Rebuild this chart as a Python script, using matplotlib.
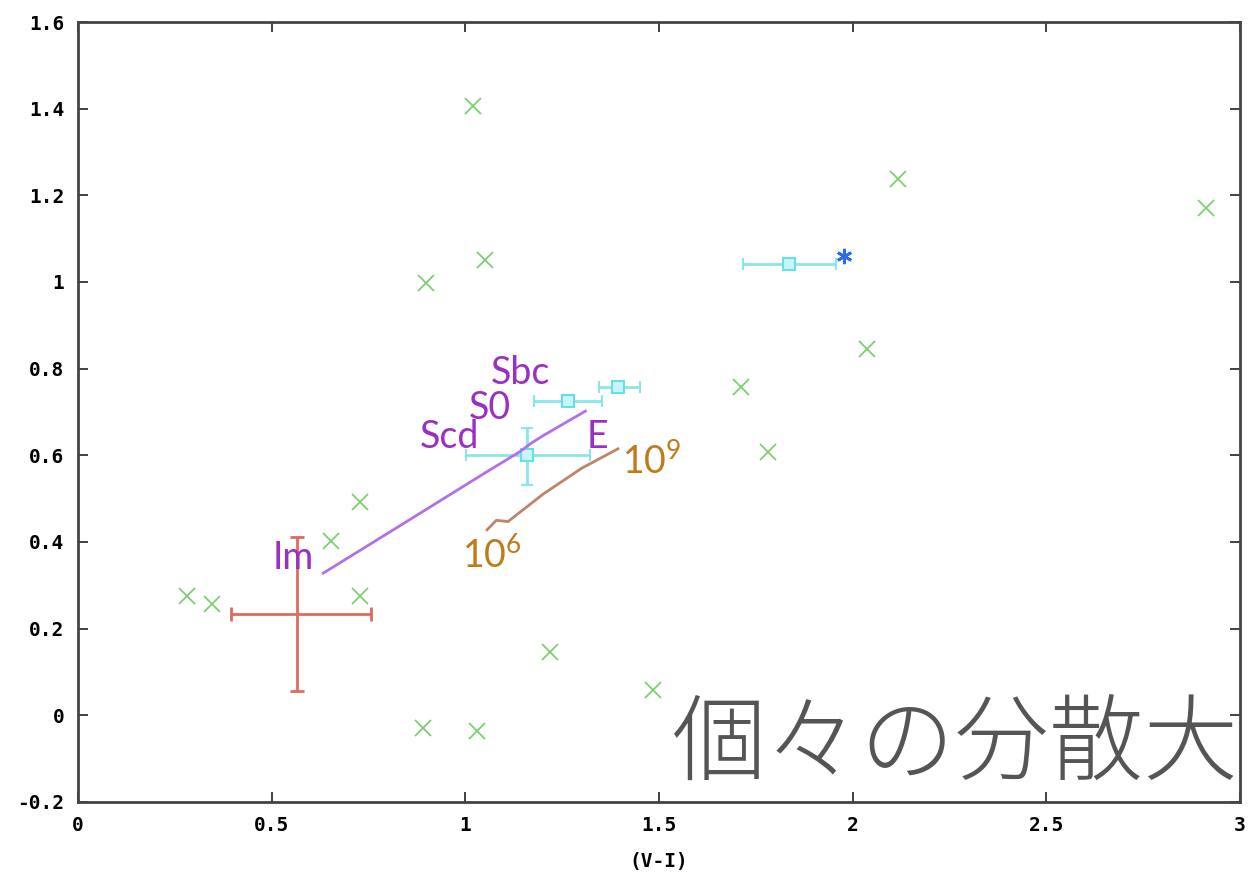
import matplotlib
matplotlib.use("Agg")
import matplotlib.pyplot as plt

# scattered galaxies (green crosses)
gx = [0.28, 0.346, 0.653, 0.728, 0.728, 0.899, 1.02, 1.05, 0.891, 1.03,
      1.219, 1.485, 1.712, 1.782, 2.037, 2.117, 2.912]
gy = [0.275, 0.257, 0.402, 0.492, 0.275, 0.998, 1.406, 1.051, -0.029, -0.036,
      0.146, 0.058, 0.758, 0.608, 0.845, 1.238, 1.171]

# mean with spread (red)
red_x, red_y = 0.565, 0.234
red_xerr = [[0.17], [0.192]]
red_yerr = [[0.178], [0.177]]

# cyan points with error bars
cx = [1.159, 1.265, 1.394, 1.836]
cy = [0.601, 0.725, 0.758, 1.042]
cx_lo = [0.157, 0.088, 0.049, 0.119]
cx_hi = [0.163, 0.088, 0.057, 0.121]
cy_lo = [0.069, 0.0, 0.0, 0.012]
cy_hi = [0.062, 0.0, 0.0, 0.012]

star_x, star_y = 1.978, 1.06

# model tracks
hub_x = [0.633, 0.85, 1.05, 1.14, 1.17, 1.20, 1.31]
hub_y = [0.328, 0.448, 0.559, 0.608, 0.628, 0.645, 0.702]
age_x = [1.056, 1.08, 1.11, 1.2, 1.3, 1.394]
age_y = [0.428, 0.45, 0.447, 0.51, 0.57, 0.615]

hub_labels = ["Im", "Scd", "S0", "Sbc", "E"]
hub_lx = [0.555, 0.96, 1.064, 1.141, 1.34]
hub_ly = [0.363, 0.642, 0.71, 0.79, 0.642]
age_labels = [r"$\mathregular{10^9}$", r"$\mathregular{10^6}$"]
age_lx = [1.482, 1.069]
age_ly = [0.585, 0.368]

xticks = [0, 0.5, 1, 1.5, 2, 2.5, 3]
xticklabels = ["0", "0.5", "1", "1.5", "2", "2.5", "3"]
yticks = [-0.2, 0, 0.2, 0.4, 0.6, 0.8, 1, 1.2, 1.4, 1.6]
yticklabels = ["-0.2", "0", "0.2", "0.4", "0.6", "0.8", "1", "1.2", "1.4", "1.6"]

fig = plt.figure(figsize=(12.53, 8.84), dpi=100)
ax = fig.add_axes([0.0623, 0.0928, 0.9273, 0.8823])

ax.plot(gx, gy, "x", color="#7fcf72", ms=11, mew=1.3, zorder=2)

ax.errorbar(red_x, red_y, xerr=red_xerr, yerr=red_yerr, fmt="none",
            ecolor="#e06a5e", elinewidth=2, capsize=5, capthick=2, zorder=3)

ax.errorbar(cx, cy, xerr=[cx_lo, cx_hi], yerr=[cy_lo, cy_hi], fmt="s",
            ms=9, mfc="#c8f5f7", mec="#66dfe6", mew=1.5, color="#7fe3e8",
            ecolor="#8ae6ea", elinewidth=2, capsize=4, capthick=2, zorder=3)

ax.plot(star_x, star_y, marker=(6, 2, 0), color="#2a6cf0", ms=11, mew=2, zorder=4)

ax.plot(hub_x, hub_y, color="#b070e8", lw=2, zorder=4)
ax.plot(age_x, age_y, color="#c08468", lw=2, zorder=4)

for t, x, y in zip(hub_labels, hub_lx, hub_ly):
    ax.text(x, y, t, color="#9b2fc4", fontsize=27, family="Lato",
            ha="center", va="center", zorder=5)
for t, x, y in zip(age_labels, age_lx, age_ly):
    ax.text(x, y, t, color="#c07a1a", fontsize=27, family="Lato",
            ha="center", va="center", zorder=5)

ax.text(2.995, -0.07, "個々の分散大", color="#555555", fontsize=68,
        family=["Noto Sans CJK JP", "DejaVu Sans"], fontweight="light",
        ha="right", va="center", zorder=6)

ax.set_xlim(0, 3)
ax.set_ylim(-0.2, 1.6)
ax.set_xticks(xticks)
ax.set_xticklabels(xticklabels)
ax.set_yticks(yticks)
ax.set_yticklabels(yticklabels)
ax.tick_params(direction="in", length=7, width=1.3, color="#333333",
               top=True, right=True, labelsize=14, pad=10)
for lab in ax.get_xticklabels() + ax.get_yticklabels():
    lab.set_family("DejaVu Sans Mono")
    lab.set_fontweight("bold")
for s in ax.spines.values():
    s.set_linewidth(2)
    s.set_color("#444444")

ax.set_xlabel("(V-I)", family="DejaVu Sans Mono", fontweight="bold",
              fontsize=14, labelpad=12)

fig.savefig("out.png", dpi=100)
